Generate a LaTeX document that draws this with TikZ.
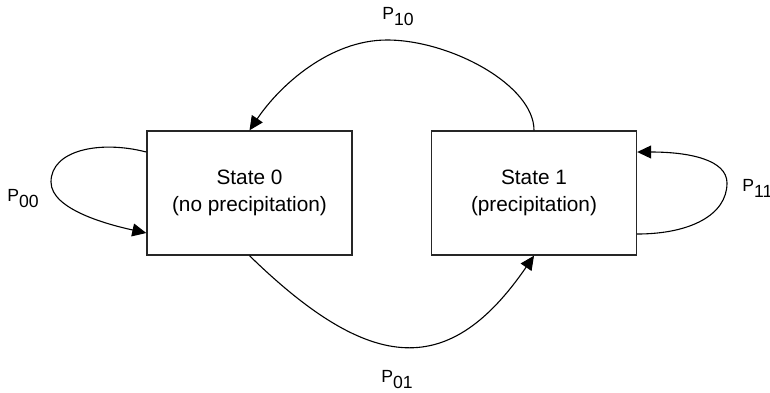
\documentclass[tikz,border=0pt]{standalone}
\usepackage{fontspec}
\setmainfont{Liberation Sans}
\usetikzlibrary{arrows.meta}
\newcommand{\plab}[3]{\node[plabel] (#1) at (#2) {P\raisebox{-3pt}{#3}};}
\tikzset{
	statebox/.style={draw=black!85, line width=0.7pt, inner sep=0pt,
		minimum width=102.5pt, minimum height=62pt, align=center,
		font=\fontsize{10.4}{13.5}\selectfont},
	plabel/.style={anchor=base west, inner sep=0pt, font=\fontsize{8.8}{10}\selectfont},
	trans/.style={line width=0.55pt, -{Triangle[length=7pt,width=6.5pt]}}
}
\begin{document}
\begin{tikzpicture}[x=0.5pt,y=-0.5pt]
	\useasboundingbox (0,0) rectangle (770,392);
	\node[statebox] (s0) at (249.5,193) {State 0\\(no precipitation)};
	\node[statebox] (s1) at (534,193) {State 1\\(precipitation)};
	% from 1 to 0, over the top
	\draw[trans] (s1.north) .. controls (534,85) and (450,40) .. (387,40)
		.. controls (330,40) and (280,85) .. (s0.north);
	% from 0 to 1, under the boxes
	\draw[trans] (s0.south) .. controls (372,375) and (450,378) .. (s1.south);
	% loops
	\draw[trans] ([yshift=20.5pt]s0.west) .. controls (100,140) and (51,150) .. (51,182)
		.. controls (51,210) and (110,225) .. ([yshift=-20pt]s0.west);
	\draw[trans] ([yshift=-20.5pt]s1.east) .. controls (690,234) and (727,215) .. (727,183)
		.. controls (727,160) and (690,152) .. ([yshift=20.5pt]s1.east);
	\plab{p00}{7,201}{00}
	\plab{p10}{382,19}{10}
	\plab{p01}{381,382}{01}
	\plab{p11}{742,191}{11}
\end{tikzpicture}
\end{document}
